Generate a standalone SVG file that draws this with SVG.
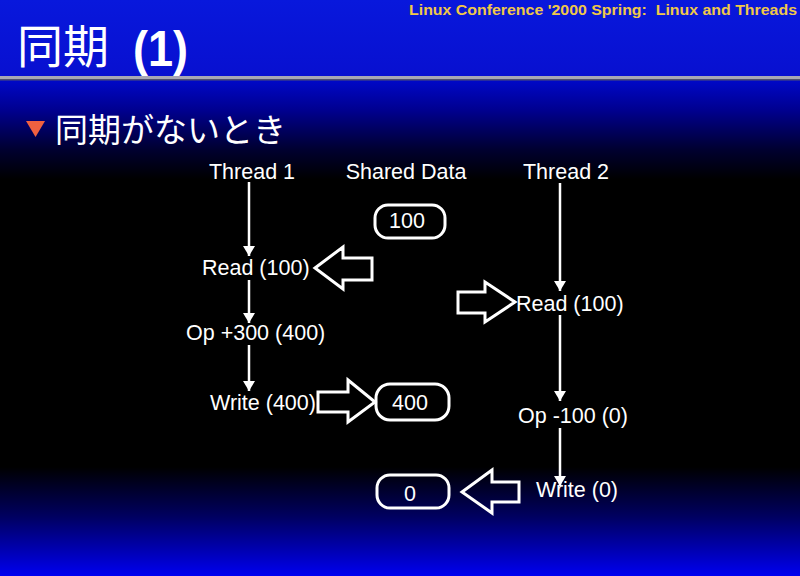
<svg xmlns="http://www.w3.org/2000/svg" width="800" height="576" viewBox="0 0 800 576">
<defs>
<linearGradient id="hdr" x1="0" y1="0" x2="0" y2="76" gradientUnits="userSpaceOnUse">
<stop offset="0" stop-color="#0818dc"/>
<stop offset="1" stop-color="#0810d0"/>
</linearGradient>
<linearGradient id="bg" x1="0" y1="80" x2="0" y2="576" gradientUnits="userSpaceOnUse">
<stop offset="0" stop-color="#0008c8"/>
<stop offset="0.06" stop-color="#000090"/>
<stop offset="0.14" stop-color="#000030"/>
<stop offset="0.2" stop-color="#000000"/>
<stop offset="0.78" stop-color="#000000"/>
<stop offset="0.88" stop-color="#000060"/>
<stop offset="1" stop-color="#0000f0"/>
</linearGradient>
<marker id="ah" viewBox="0 0 10 12" refX="10" refY="6" markerWidth="10" markerHeight="12" markerUnits="userSpaceOnUse" orient="auto">
<path d="M0,0 L10,6 L0,12 Z" fill="#fff"/>
</marker>
<style>
.t{font-family:"Liberation Sans",Arial,sans-serif;font-size:21.5px;fill:#fff}
.c{text-anchor:middle}
.box{fill:none;stroke:#fff;stroke-width:3}
.blk{fill:none;stroke:#fff;stroke-width:3;stroke-linejoin:miter}
.ln{stroke:#fff;stroke-width:2.5;fill:none}
</style>
</defs>
<rect x="0" y="0" width="800" height="576" fill="url(#bg)"/>
<rect x="0" y="0" width="800" height="76" fill="url(#hdr)"/>
<rect x="0" y="76" width="800" height="3" fill="#a8a8b4"/>
<rect x="0" y="79" width="800" height="1.5" fill="#505070"/>
<text x="797" y="15" text-anchor="end" font-family="'Liberation Sans',Arial,sans-serif" font-size="15" font-weight="bold" fill="#f0c848" textLength="388" lengthAdjust="spacingAndGlyphs" xml:space="preserve">Linux Conference '2000 Spring:  Linux and Threads</text>
<text x="17" y="63" font-family="'Noto Sans CJK JP',sans-serif" font-size="46" fill="#fff">同期</text>
<text x="133" y="66" font-family="'Liberation Sans',Arial,sans-serif" font-size="50" font-weight="bold" fill="#fff" textLength="55" lengthAdjust="spacingAndGlyphs">(1)</text>
<path d="M26,121 L45,121 L35.5,137 Z" fill="#f06040"/>
<text x="55" y="142" font-family="'Noto Sans CJK JP',sans-serif" font-size="33" fill="#fff">同期がないとき</text>

<g id="connectors">
<line class="ln" x1="249" y1="182" x2="249" y2="256" marker-end="url(#ah)"/>
<line class="ln" x1="249" y1="280" x2="249" y2="323" marker-end="url(#ah)"/>
<line class="ln" x1="249" y1="345" x2="249" y2="391" marker-end="url(#ah)"/>
<line class="ln" x1="560" y1="183" x2="560" y2="291" marker-end="url(#ah)"/>
<line class="ln" x1="560" y1="315" x2="560" y2="401" marker-end="url(#ah)"/>
<line class="ln" x1="560" y1="428" x2="560" y2="486" marker-end="url(#ah)"/>
<path id="ba1" class="blk" d="M315,268 L343,247 L343,258 L372,258 L372,280 L343,280 L343,289 Z"/>
<path id="ba2" class="blk" d="M458,292 L485,292 L485,282 L515,302 L485,322 L485,313 L458,313 Z"/>
<path id="ba3" class="blk" d="M318,392 L348,392 L348,380 L375,402 L348,422 L348,412 L318,412 Z"/>
<path id="ba4" class="blk" d="M462,492 L492,470 L492,482 L519,482 L519,502 L492,502 L492,513 Z"/>
</g>

<g id="h1"><text class="t c" x="252" y="179">Thread 1</text></g>
<g id="h2"><text class="t c" x="406" y="179">Shared Data</text></g>
<g id="h3"><text class="t c" x="566" y="179">Thread 2</text></g>

<g id="d100"><rect class="box" x="375" y="205" width="70" height="33" rx="13"/><text class="t c" x="407" y="228">100</text></g>
<g id="d400"><rect class="box" x="376" y="384" width="73" height="36" rx="14"/><text class="t c" x="410" y="410">400</text></g>
<g id="d0"><rect class="box" x="377" y="475" width="72" height="33" rx="13"/><text class="t c" x="410" y="501">0</text></g>

<g id="t1r"><text class="t" x="202" y="275">Read (100)</text></g>
<g id="t1o"><text class="t" x="186" y="340">Op +300 (400)</text></g>
<g id="t1w"><text class="t" x="210" y="410">Write (400)</text></g>
<g id="t2r"><text class="t" x="516" y="311">Read (100)</text></g>
<g id="t2o"><text class="t" x="518" y="423">Op -100 (0)</text></g>
<g id="t2w"><text class="t" x="536" y="497">Write (0)</text></g>
</svg>
